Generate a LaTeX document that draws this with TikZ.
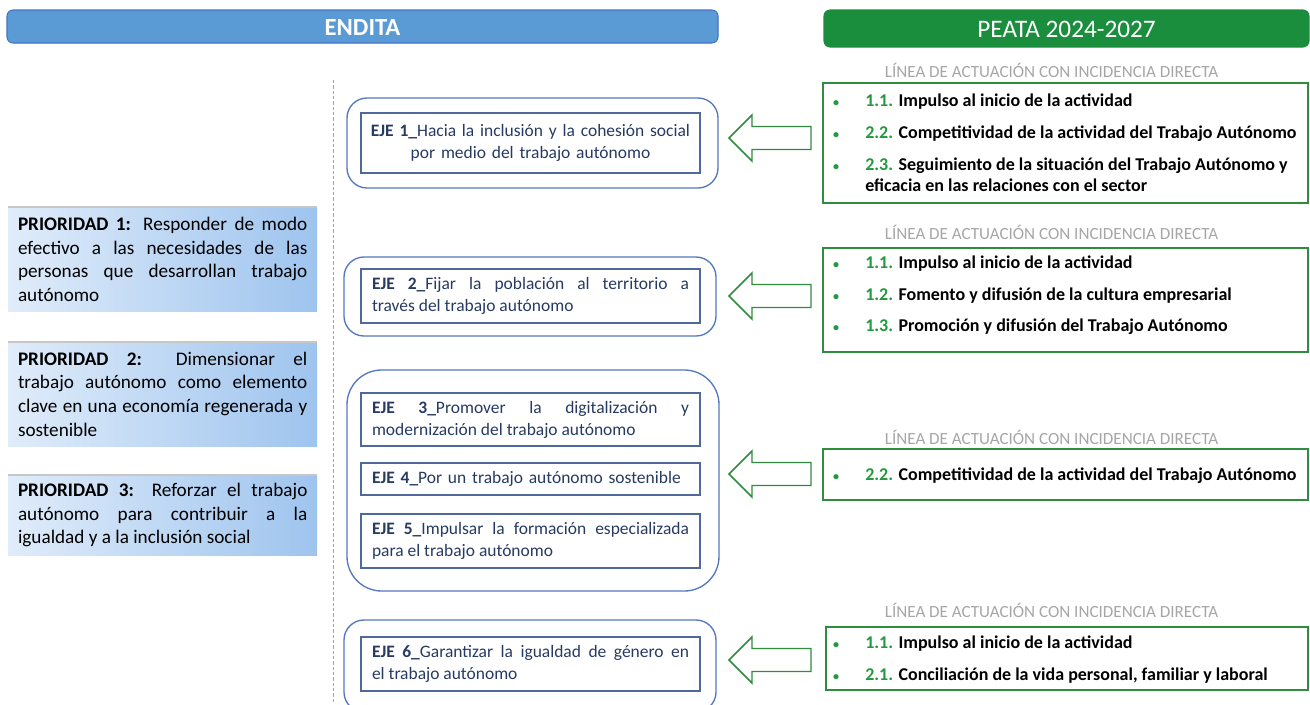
\documentclass[tikz,border=0pt]{standalone}
\usepackage{fontspec}
\setmainfont{Carlito}
\definecolor{cblue}{RGB}{91,155,213}
\definecolor{cbluebd}{RGB}{68,114,196}
\definecolor{cgreen}{RGB}{27,142,62}
\definecolor{cgbd}{RGB}{48,140,62}
\definecolor{cnum}{RGB}{34,153,60}
\definecolor{cgray}{RGB}{166,166,166}
\definecolor{ceje}{RGB}{38,58,98}
\definecolor{cinner}{RGB}{80,105,155}
\definecolor{couter}{RGB}{84,120,190}
\definecolor{cplight}{RGB}{224,236,250}
\definecolor{cpdark}{RGB}{158,196,238}
\newcommand{\nm}[1]{\textcolor{cnum}{#1}}
\begin{document}
\begin{tikzpicture}[x=0.75pt,y=-0.75pt,
  hdrblue/.style={draw=cbluebd, fill=cblue, rounded corners=4.5pt, line width=0.8pt},
  hdrgreen/.style={draw=cgreen, fill=cgreen, rounded corners=4.5pt, line width=0.8pt},
  prio/.style={left color=cplight, right color=cpdark, draw=none},
  priotext/.style={text width=217pt, align=justify, inner sep=0pt, font=\fontsize{14.4}{17.8}\selectfont, text=black},
  outerbox/.style={draw=couter, line width=1pt, rounded corners=15pt},
  outerbig/.style={draw=couter, line width=1pt, rounded corners=26pt},
  innerbox/.style={draw=cinner, line width=1.1pt, minimum width=254.25pt, inner xsep=8.25pt, inner ysep=0pt,
     text width=237.75pt, font=\fontsize{13.1}{16.5}\selectfont, text=ceje},
  rbox/.style={draw=cgbd, line width=1.1pt, minimum width=363.75pt, inner sep=0pt},
  lhead/.style={text=cgray, font=\fontsize{12.8}{14}\selectfont, inner sep=0pt},
  item/.style={anchor=base west, inner sep=0pt, font=\bfseries\fontsize{13.5}{15}\selectfont},
  bul/.style={anchor=base, inner sep=0pt, text=cnum, font=\bfseries\fontsize{9}{10}\selectfont},
  garrow/.style={draw=cgbd, fill=white, line width=1.1pt, line join=miter},
  sep/.style={draw=black!35, line width=0.5pt, dash pattern=on 2.5pt off 1.5pt}
]
\useasboundingbox (0,0) rectangle (1310,704);
\begin{scope}
\clip (0,0) rectangle (1310,704);

% headers
\draw[hdrblue] (7,10) rectangle (718,43);
\node[text=white, font=\bfseries\fontsize{18.5}{20}\selectfont] (endita) at (362.5,27) {ENDITA};
\draw[hdrgreen] (824,10) rectangle (1309,47);
\node[text=white, font=\fontsize{18.9}{20}\selectfont] (peata) at (1066.5,29) {PEATA 2024-2027};

% separator
\coordinate (sepA) at (333,80);
\coordinate (sepB) at (333,704);
\draw[sep] (sepA) -- (sepB);

% priorities
\shade[prio] (8,207) rectangle (317,311);
\draw[black!22, line width=0.8pt] (8,207) -- (317,207);
\node[priotext] (p1) at (162.7,259.5) {\textbf{PRIORIDAD 1:} Responder de modo\linebreak efectivo a las necesidades de las\linebreak personas que desarrollan trabajo\linebreak autónomo};
\shade[prio] (8,342) rectangle (317,446);
\draw[black!22, line width=0.8pt] (8,342) -- (317,342);
\node[priotext] (p2) at (162.7,394) {\textbf{PRIORIDAD 2:} Dimensionar el\linebreak trabajo autónomo como elemento\linebreak clave en una economía regenerada y\linebreak sostenible};
\shade[prio] (8,475) rectangle (317,555);
\draw[black!22, line width=0.8pt] (8,475) -- (317,475);
\node[priotext] (p3) at (162.7,515) {\textbf{PRIORIDAD 3:} Reforzar el trabajo\linebreak autónomo para contribuir a la\linebreak igualdad y a la inclusión social};

% EJE outer boxes
\draw[outerbox] (347,98) rectangle (718,188);
\draw[outerbox] (344,257) rectangle (716,336);
\draw[outerbig] (347,370) rectangle (719,591);
\draw[outerbox] (344,620) rectangle (716,712);

% EJE inner boxes
\node[innerbox, minimum height=45pt, align=center, inner xsep=5pt, text width=244.25pt] (e1) at (530.5,143) {\textbf{EJE 1\_}Hacia la inclusión y la cohesión social\\por medio del trabajo autónomo};
\node[innerbox, minimum height=40.5pt, align=justify] (e2) at (530.5,296) {\textbf{EJE 2\_}Fijar la población al territorio a\linebreak través del trabajo autónomo};
\node[innerbox, minimum height=39.75pt, align=justify] (e3) at (530.5,419.5) {\textbf{EJE 3\_}Promover la digitalización y\linebreak modernización del trabajo autónomo};
\node[innerbox, minimum height=24pt, align=left] (e4) at (530.5,479) {\textbf{EJE 4\_}Por un trabajo autónomo sostenible};
\node[innerbox, minimum height=40.5pt, align=justify] (e5) at (530.5,541) {\textbf{EJE 5\_}Impulsar la formación especializada\linebreak para el trabajo autónomo};
\node[innerbox, minimum height=40.5pt, align=justify] (e6) at (530.5,664) {\textbf{EJE 6\_}Garantizar la igualdad de género en\linebreak el trabajo autónomo};

% right boxes
\node[lhead] (h1) at (1051.5,70) {LÍNEA DE ACTUACIÓN CON INCIDENCIA DIRECTA};
\node[rbox, minimum height=90pt] (r1) at (1065.5,143) {};
\node[bul] (b1a) at (836,106) {•};
\node[item] (i1a) at (865,106) {\nm{1.1.} Impulso al inicio de la actividad};
\node[bul] (b1b) at (836,138) {•};
\node[item] (i1b) at (865,138) {\nm{2.2.} Competitividad de la actividad del Trabajo Autónomo};
\node[bul] (b1c) at (836,170) {•};
\node[item] (i1c) at (865,170) {\nm{2.3.} Seguimiento de la situación del Trabajo Autónomo y};
\node[item] (i1d) at (865,191) {eficacia en las relaciones con el sector};

\node[lhead] (h2) at (1051.5,232) {LÍNEA DE ACTUACIÓN CON INCIDENCIA DIRECTA};
\node[rbox, minimum height=78pt] (r2) at (1065.5,300) {};
\node[bul] (b2a) at (836,268) {•};
\node[item] (i2a) at (865,268) {\nm{1.1.} Impulso al inicio de la actividad};
\node[bul] (b2b) at (836,300) {•};
\node[item] (i2b) at (865,300) {\nm{1.2.} Fomento y difusión de la cultura empresarial};
\node[bul] (b2c) at (836,331) {•};
\node[item] (i2c) at (865,331) {\nm{1.3.} Promoción y difusión del Trabajo Autónomo};

\node[lhead] (h3) at (1051.5,437) {LÍNEA DE ACTUACIÓN CON INCIDENCIA DIRECTA};
\node[rbox, minimum height=38.25pt] (r3) at (1065.5,474.5) {};
\node[bul] (b3a) at (836,480) {•};
\node[item] (i3a) at (865,480) {\nm{2.2.} Competitividad de la actividad del Trabajo Autónomo};

\node[lhead] (h4) at (1051.5,610) {LÍNEA DE ACTUACIÓN CON INCIDENCIA DIRECTA};
\node[rbox, minimum height=47.25pt, minimum width=361.5pt] (r4) at (1067,658.5) {};
\node[bul] (b4a) at (836,648) {•};
\node[item] (i4a) at (865,648) {\nm{1.1.} Impulso al inicio de la actividad};
\node[bul] (b4b) at (836,680) {•};
\node[item] (i4b) at (865,680) {\nm{2.1.} Conciliación de la vida personal, familiar y laboral};

% block arrows
\foreach \c in {138,296,474,660}{
  \draw[garrow, shift={(0,\c)}] (729,0) -- (752,-23) -- (752,-11.5) -- (811,-11.5) -- (811,11.5) -- (752,11.5) -- (752,23) -- cycle;
}
\end{scope}
\end{tikzpicture}
\end{document}
